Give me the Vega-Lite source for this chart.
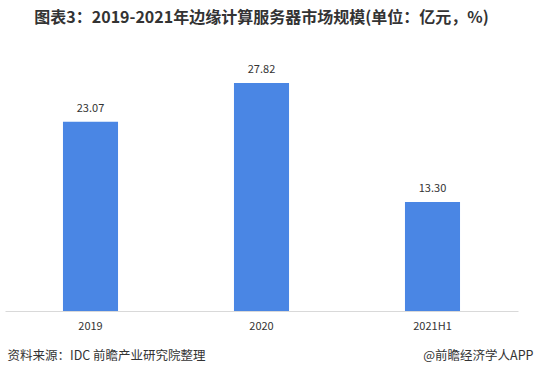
{
  "$schema": "https://vega.github.io/schema/vega-lite/v6.json",
  "autosize": "none",
  "width": 513,
  "height": 246,
  "padding": {"left": 5, "top": 65, "right": 17, "bottom": 67},
  "background": "white",
  "config": {"view": {"stroke": null}, "font": "Noto Sans CJK SC"},
  "title": {
    "text": "图表3：2019-2021年边缘计算服务器市场规模(单位：亿元，%)",
    "fontSize": 16,
    "fontWeight": "bold",
    "color": "#333333",
    "font": "Noto Sans CJK SC",
    "anchor": "middle",
    "offset": 38
  },
  "data": {
    "values": [
      {"year": "2019", "value": 23.07},
      {"year": "2020", "value": 27.82},
      {"year": "2021H1", "value": 13.30}
    ]
  },
  "resolve": {"axis": {"x": "independent"}},
  "layer": [
    {
      "mark": {"type": "bar", "color": "#4a86e4"},
      "encoding": {
        "x": {
          "field": "year", "type": "nominal", "sort": null,
          "scale": {"paddingInner": 0.678, "paddingOuter": 0.339},
          "axis": {
            "orient": "bottom",
            "title": "资料来源：IDC 前瞻产业研究院整理",
            "titleAnchor": "start", "titleAlign": "left",
            "titleX": 2, "titleY": 44, "titleBaseline": "middle",
            "titleFontSize": 12.5, "titleFontWeight": "normal", "titleColor": "#333333",
            "labelAngle": 0, "labelFontSize": 11, "labelColor": "#333333", "labelPadding": 9,
            "ticks": false, "domainColor": "#d9d9d9", "grid": false
          }
        },
        "y": {
          "field": "value", "type": "quantitative",
          "scale": {"domain": [0, 30], "nice": false},
          "axis": null
        }
      }
    },
    {
      "mark": {"type": "text", "baseline": "bottom", "dy": -8, "fontSize": 11, "color": "#333333"},
      "encoding": {
        "x": {
          "field": "year", "type": "nominal", "sort": null,
          "axis": {
            "orient": "bottom",
            "title": "@前瞻经济学人APP",
            "titleX": 528, "titleY": 44, "titleAlign": "right", "titleBaseline": "middle",
            "titleFontSize": 12.5, "titleFontWeight": "normal", "titleColor": "#333333",
            "labels": false, "ticks": false, "domain": false, "grid": false
          }
        },
        "y": {"field": "value", "type": "quantitative"},
        "text": {"field": "value", "type": "quantitative", "format": ".2f"}
      }
    }
  ]
}
